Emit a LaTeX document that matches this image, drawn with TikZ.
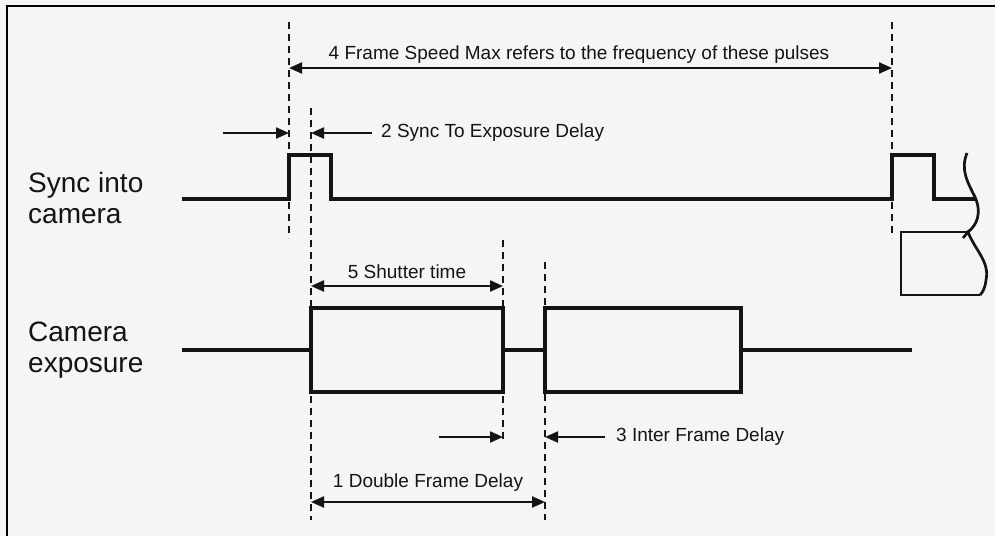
\documentclass[tikz,border=0pt]{standalone}
\usepackage{fontspec}
\setmainfont{Liberation Sans}
\usetikzlibrary{arrows.meta}
\definecolor{paper}{RGB}{245,245,245}
\definecolor{ink}{RGB}{20,20,20}
\begin{document}
\begin{tikzpicture}[x=1pt,y=-1pt,
  signal/.style={line width=3.8pt,draw=ink},
  breakline/.style={line width=2.7pt,draw=ink},
  guide/.style={line width=1.6pt,draw=ink,dash pattern=on 7pt off 5pt},
  dim/.style={line width=2.2pt,draw=ink,-{Triangle[length=13pt,width=11pt]}},
  dimboth/.style={line width=2.2pt,draw=ink,{Triangle[length=13pt,width=11pt]}-{Triangle[length=13pt,width=11pt]}},
  small/.style={font=\fontsize{19}{22}\selectfont,text=ink,inner sep=0pt},
  big/.style={font=\fontsize{28}{31}\selectfont,text=ink,align=left,inner sep=0pt,anchor=west}]

% page and frame
\fill[paper] (0,0) rectangle (995,536);
\useasboundingbox (0,0) rectangle (995,536);
\draw[line width=2pt] (7,536) -- (7,6) -- (995,6);

% signal names
\node[big] (synclbl) at (28,198) {Sync into\\camera};
\node[big] (explbl) at (28,350) {Camera\\exposure};

% sync pulse train
\draw[signal] (182,199) -- (289,199) -- (289,155) -- (331,155) -- (331,199)
  -- (892,199) -- (892,155) -- (934,155) -- (934,199) -- (975,199);

% break in the drawing
\draw[breakline] (967,153) .. controls (960,170) and (968,183) .. (975,197)
  .. controls (982,213) and (977,225) .. (968,232);
\draw[breakline] (963,238) -- (968,232) .. controls (975,250) and (990,262) .. (986,280)
  .. controls (985,288) and (983,292) .. (980,295);
\draw[breakline] (968,232) -- (901,232) -- (901,295) -- (980,295);

% exposure signal
\draw[signal] (182,350) -- (311,350);
\draw[signal] (311,308) rectangle (503,392);
\draw[signal] (503,350) -- (545,350);
\draw[signal] (545,308) rectangle (741,392);
\draw[signal] (741,350) -- (912,350);

% guide lines
\draw[guide] (289,22) -- (289,238);
\draw[guide] (892,22) -- (892,238);
\draw[guide] (311,108) -- (311,520);
\draw[guide] (503,240) -- (503,442);
\draw[guide] (545,262) -- (545,520);

% 4: frame speed
\coordinate (fsA) at (289,68);
\coordinate (fsB) at (892,68);
\draw[dimboth] (fsA) -- (fsB);
\node[small] (fslbl) at (579,55) {4 Frame Speed Max refers to the frequency of these pulses};

% 2: sync to exposure delay
\coordinate (seA) at (223,133);
\coordinate (seB) at (289,133);
\coordinate (seC) at (372,133);
\coordinate (seD) at (311,133);
\draw[dim] (seA) -- (seB);
\draw[dim] (seC) -- (seD);
\node[small,anchor=west] (selbl) at (381,133) {2 Sync To Exposure Delay};

% 5: shutter time
\coordinate (stA) at (311,286);
\coordinate (stB) at (503,286);
\draw[dimboth] (stA) -- (stB);
\node[small] (stlbl) at (407,272) {5 Shutter time};

% 3: inter frame delay
\coordinate (ifA) at (439,437);
\coordinate (ifB) at (503,437);
\coordinate (ifC) at (605,437);
\coordinate (ifD) at (545,437);
\draw[dim] (ifA) -- (ifB);
\draw[dim] (ifC) -- (ifD);
\node[small,anchor=west] (iflbl) at (616,437) {3 Inter Frame Delay};

% 1: double frame delay
\coordinate (dfA) at (311,502);
\coordinate (dfB) at (545,502);
\draw[dimboth] (dfA) -- (dfB);
\node[small] (dflbl) at (428,483) {1 Double Frame Delay};
\end{tikzpicture}
\end{document}
